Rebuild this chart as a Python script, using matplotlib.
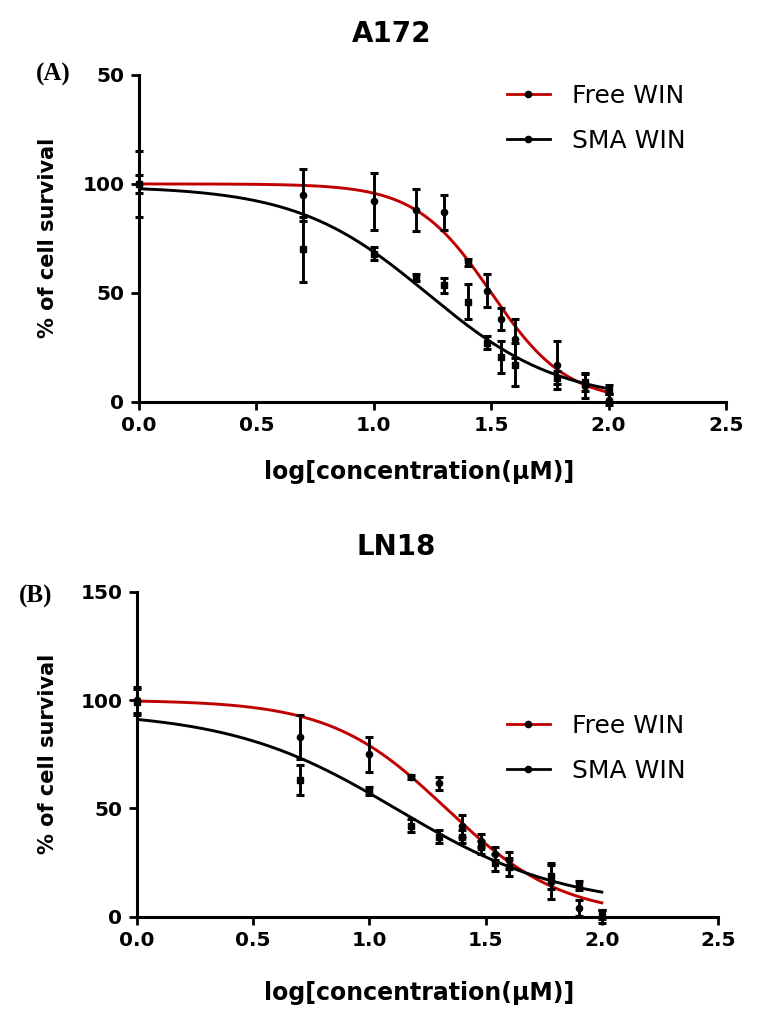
import numpy as np
import matplotlib
matplotlib.use('Agg')
import matplotlib.pyplot as plt
from matplotlib.lines import Line2D

# log[concentration (uM)] used in both cell lines
log_conc = [0.0, 0.7, 1.0, 1.18, 1.3, 1.4, 1.48, 1.54, 1.6, 1.78, 1.9, 2.0]

# A172 - % of cell survival (mean, SD)
free_a = [100, 95, 92, 88, 87, 64, 51, 38, 29, 17, 7, 1]
free_a_sd = [15, 12, 13, 9.5, 8, 1.5, 7.5, 5, 9, 11, 5.5, 2.5]
sma_a = [100, 70, 68, 57, 53.5, 46, 27, 20.5, 17, 11, 9, 5.5]
sma_a_sd = [4, 15, 3, 1.5, 3.5, 8, 3, 7.5, 10, 3, 4, 2]

# LN18 - % of cell survival (mean, SD)
free_b = [100, 83, 75, 64.5, 61.5, 42, 35, 29, 26, 16, 4, 0]
free_b_sd = [6, 10, 8, 1, 3, 5, 3, 3, 4, 8, 3.5, 3]
sma_b = [99, 63, 58, 42, 37, 37, 32, 25, 23, 19, 14.5, 1]
sma_b_sd = [6, 7, 2, 3, 3, 3, 3, 4, 4, 6, 2, 2]

# fitted dose-response curves: top, bottom, logIC50, hill slope
fit_free_a = (100, 0, 1.50, 2.7)
fit_sma_a = (99, 0, 1.23, 1.55)
fit_free_b = (100, 0, 1.33, 1.74)
fit_sma_b = (95, 4, 1.12, 1.2)

xtick_vals = [0.0, 0.5, 1.0, 1.5, 2.0, 2.5]
xtick_labels = ['0.0', '0.5', '1.0', '1.5', '2.0', '2.5']
ytick_vals = [0, 50, 100, 150]
ytick_labels_a = ['0', '50', '100', '50']
ytick_labels_b = ['0', '50', '100', '150']

RED = '#c00000'
W, H = 766, 1021


def dose_response(x, top, bottom, log_ic50, hill):
    return bottom + (top - bottom) / (1 + 10 ** ((x - log_ic50) * hill))


def draw_panel(ax, free, free_sd, sma, sma_sd, fit_free, fit_sma, ylabels):
    xs = np.linspace(0, 2.0, 300)
    ax.plot(xs, dose_response(xs, *fit_free), color=RED, lw=2.1, zorder=3)
    ax.plot(xs, dose_response(xs, *fit_sma), color='black', lw=2.1, zorder=3)

    for y, e, m in [(free, free_sd, 'o'), (sma, sma_sd, 's')]:
        eb = ax.errorbar(log_conc, y, yerr=e, fmt=m, color='black', ms=4.5,
                         elinewidth=2.1, capsize=2.8, capthick=2.2, zorder=4)
        for art in eb.get_children():
            art.set_clip_on(False)

    ax.set_xlim(0, 2.5)
    ax.set_ylim(0, 150)
    ax.set_xticks(xtick_vals)
    ax.set_xticklabels(xtick_labels)
    ax.set_yticks(ytick_vals)
    ax.set_yticklabels(ylabels)
    for side in ['top', 'right']:
        ax.spines[side].set_visible(False)
    for side in ['left', 'bottom']:
        ax.spines[side].set_linewidth(2.2)
    ax.tick_params(direction='out', length=5.5, width=2, labelsize=14.5, pad=5)
    for lbl in ax.get_xticklabels() + ax.get_yticklabels():
        lbl.set_fontweight('bold')


def px(x, y):
    return x / W, 1 - y / H


fig = plt.figure(figsize=(7.66, 10.21), dpi=100)
ax_a = fig.add_axes([139 / W, 1 - 401.7 / H, 587 / W, 326.7 / H])
ax_b = fig.add_axes([137 / W, 1 - 916.7 / H, 581 / W, 325 / H])

draw_panel(ax_a, free_a, free_a_sd, sma_a, sma_a_sd, fit_free_a, fit_sma_a, ytick_labels_a)
draw_panel(ax_b, free_b, free_b_sd, sma_b, sma_b_sd, fit_free_b, fit_sma_b, ytick_labels_b)

# titles, panel letters, axis labels
fig.text(*px(392, 34), 'A172', ha='center', va='center', fontsize=20, fontweight='bold')
fig.text(*px(396, 547), 'LN18', ha='center', va='center', fontsize=20, fontweight='bold')
fig.text(*px(53, 74), '(A)', ha='center', va='center', fontsize=18, fontweight='bold',
         family='Liberation Serif')
fig.text(*px(36, 596), '(B)', ha='center', va='center', fontsize=18, fontweight='bold',
         family='Liberation Serif')

for yc in [238, 754]:
    fig.text(*px(48, yc), '% of cell survival', rotation=90, ha='center', va='center',
             fontsize=15, fontweight='bold')
for xc, yc in [(419, 472), (419, 993)]:
    fig.text(*px(xc, yc), 'log[concentration(μM)]', ha='center', va='center',
             fontsize=17, fontweight='bold')

# legends
for ax, top in [(ax_a, 84), (ax_b, 714)]:
    handles = [
        Line2D([], [], color=RED, lw=2, marker='o', ms=4.5, mfc='black', mec='black'),
        Line2D([], [], color='black', lw=2, marker='o', ms=4.5, mfc='black', mec='black'),
    ]
    ax.legend(handles, ['Free WIN', 'SMA WIN'], loc='upper left',
              bbox_to_anchor=px(507, top), bbox_transform=fig.transFigure,
              frameon=False, fontsize=18, handlelength=1.7, handletextpad=0.9,
              labelspacing=0.85, borderpad=0, borderaxespad=0)

fig.savefig('out.png', dpi=100)
